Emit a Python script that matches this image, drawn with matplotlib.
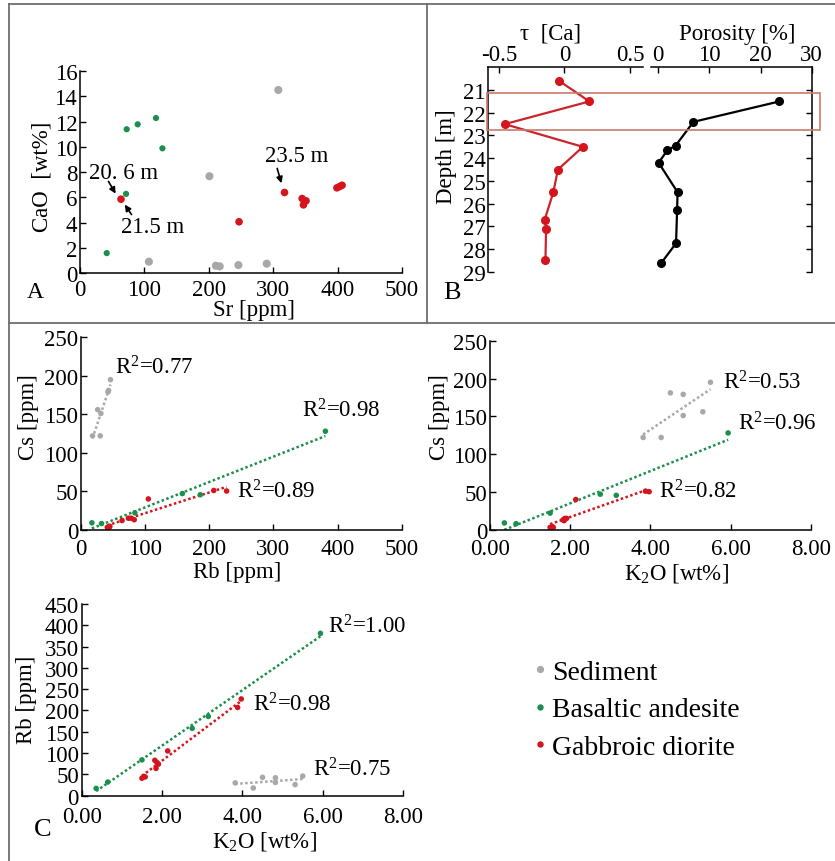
import matplotlib
matplotlib.use("Agg")
import matplotlib.pyplot as plt
import matplotlib.transforms as mtransforms
from matplotlib.lines import Line2D
from matplotlib.patches import Rectangle
from matplotlib.ticker import FormatStrFormatter
import numpy as np

plt.rcParams['font.family'] = ['Liberation Serif', 'DejaVu Serif']
plt.rcParams['mathtext.fontset'] = 'custom'
plt.rcParams['mathtext.rm'] = 'Liberation Serif'
plt.rcParams['mathtext.it'] = 'Liberation Serif:italic'
plt.rcParams['axes.unicode_minus'] = False

GREY = '#a8a8a8'
GREEN = '#1b8f4c'
RED = '#d4151d'

# panel A: Sr vs CaO
sr_sed = [107, 201, 211, 217, 246, 290, 308]
cao_sed = [0.9, 7.67, 0.58, 0.53, 0.63, 0.74, 14.5]
sr_bas = [41.5, 71.5, 72.5, 89.6, 118, 128]
cao_bas = [1.58, 6.27, 11.39, 11.78, 12.28, 9.88]
sr_gab = [63.7, 247, 317.6, 345, 351, 347, 399, 407, 403]
cao_gab = [5.85, 4.06, 6.38, 5.9, 5.72, 5.4, 6.75, 6.95, 6.85]

# panel B: depth profiles
depth_tau = [20.6, 21.5, 22.5, 23.5, 24.5, 25.5, 26.7, 27.1, 28.5]
tau_ca = [-0.04, 0.19, -0.455, 0.14, -0.05, -0.085, -0.15, -0.14, -0.145]
depth_por = [21.5, 22.4, 23.45, 23.65, 24.2, 25.5, 26.3, 27.75, 28.6]
porosity = [23.7, 6.9, 3.4, 1.8, 0.1, 3.8, 3.7, 3.5, 0.65]

# panel C: K2O, Rb, Cs per sample
k2o_sed = [3.82, 4.27, 4.50, 4.82, 4.82, 5.31, 5.50]
rb_sed = [30, 18, 43, 42, 31, 26, 46]
cs_sed = [122, 122, 181, 179, 151, 156, 195]
k2o_bas = [0.36, 0.65, 1.50, 2.75, 3.15, 5.94]
rb_bas = [17, 32, 84, 158, 186, 381]
cs_bas = [9, 8, 22, 47, 45.5, 128]
k2o_gab = [1.50, 1.58, 1.55, 1.85, 1.91, 1.87, 1.82, 2.14, 3.88, 3.97]
rb_gab = [41, 44, 45, 64, 74, 78, 83, 105, 207, 227]
cs_gab = [3.1, 3.1, 4.4, 12, 15, 15, 13, 40, 51, 50.3]

TICK = 16.5


def style(ax, xpad=4):
    for s in ['top', 'right']:
        ax.spines[s].set_visible(False)
    for s in ['left', 'bottom']:
        ax.spines[s].set_linewidth(1.1)
    ax.tick_params(direction='in', length=4, width=1, labelsize=TICK, pad=2)
    ax.tick_params(axis='x', pad=xpad)


def trend(ax, x, y, c):
    x = np.asarray(x, float)
    y = np.asarray(y, float)
    k, b = np.polyfit(x, y, 1)
    xs = np.array([x.min(), x.max()])
    ax.plot(xs, k * xs + b, ls=(0, (1, 1)), color=c, lw=1.8, zorder=1)


fig = plt.figure(figsize=(8.35, 8.62), dpi=100)

# ---- A
axA = fig.add_axes([0.0958, 0.6821, 0.3856, 0.2343])
style(axA)
axA.scatter(sr_sed, cao_sed, s=34, c=GREY, edgecolors='none', zorder=2)
axA.scatter(sr_bas, cao_bas, s=20, c=GREEN, edgecolors='none', zorder=2)
axA.scatter(sr_gab, cao_gab, s=30, c=RED, edgecolors='none', zorder=3)
axA.set_xlim(0, 500)
axA.set_ylim(0, 16)
axA.set_xticks(range(0, 501, 100))
axA.set_yticks(range(0, 17, 2))
axA.set_xlabel('Sr [ppm]', fontsize=TICK)
axA.set_ylabel('CaO  [wt%]', fontsize=TICK)
axA.xaxis.set_label_coords(0.54, -0.13)
axA.yaxis.set_label_coords(-0.085, 0.48)
arr = dict(arrowstyle='-|>', color='black', lw=1.2, mutation_scale=9)
axA.text(68, 8.0, '20. 6 m', fontsize=TICK, ha='center', va='center')
axA.annotate('', xy=(57.5, 6.1), xytext=(42, 7.45), arrowprops=arr)
axA.text(113, 3.72, '21.5 m', fontsize=TICK, ha='center', va='center')
axA.annotate('', xy=(67, 5.6), xytext=(82.5, 4.45), arrowprops=arr)
axA.text(337, 9.33, '23.5 m', fontsize=TICK, ha='center', va='center')
axA.annotate('', xy=(314, 6.9), xytext=(305, 8.5), arrowprops=arr)

# ---- B
axT = fig.add_axes([0.5848, 0.6836, 0.1856, 0.2371])
axP = fig.add_axes([0.7796, 0.6836, 0.1925, 0.2371], sharey=axT)
for ax in (axT, axP):
    ax.spines['bottom'].set_visible(False)
    ax.spines['top'].set_linewidth(1.1)
    ax.xaxis.tick_top()
    ax.xaxis.set_label_position('top')
    ax.tick_params(direction='in', length=4, width=1, labelsize=TICK, pad=2)
axT.spines['right'].set_visible(False)
axT.spines['left'].set_linewidth(1.1)
axP.spines['left'].set_visible(False)
axP.spines['right'].set_linewidth(1.1)
axP.yaxis.tick_right()
axP.tick_params(axis='y', labelright=False)

axT.plot(tau_ca, depth_tau, color='#c8262c', lw=1.6, marker='o', ms=5.5,
         mfc=RED, mec=RED)
axP.plot(porosity, depth_por, color='black', lw=1.6, marker='o', ms=5.5)
axT.set_xlim(-0.58, 0.6)
axT.set_xticks([-0.5, 0, 0.5])
axT.set_xticklabels(['-0.5', '0', '0.5'])
axP.set_xlim(-1.4, 30)
axP.set_xticks([0, 10, 20, 30])
axT.set_ylim(29, 20)
axT.set_yticks(range(21, 30))
axT.set_xlabel('\u03c4  [Ca]', fontsize=TICK)
axP.set_xlabel('Porosity [%]', fontsize=TICK)
axT.xaxis.set_label_coords(0.40, 1.14)
axP.xaxis.set_label_coords(0.535, 1.14)
axT.set_ylabel('Depth [m]', fontsize=TICK)
axT.yaxis.set_label_coords(-0.2, 0.566)

tr = mtransforms.blended_transform_factory(fig.transFigure, axT.transData)
fig.add_artist(Rectangle((0.583, 21.15), 0.399, 1.6, transform=tr,
                         fill=False, ec='#c77b6c', lw=1.2, clip_on=False))

# ---- C1: Rb vs Cs
ax1 = fig.add_axes([0.0970, 0.3843, 0.3841, 0.2232])
style(ax1, xpad=6)
for x, y, c in [(rb_sed, cs_sed, GREY), (rb_bas, cs_bas, GREEN), (rb_gab, cs_gab, RED)]:
    trend(ax1, x, y, c)
    ax1.scatter(x, y, s=16, c=c, edgecolors='none', zorder=2)
ax1.set_xlim(0, 500)
ax1.set_ylim(0, 250)
ax1.set_xticks(range(0, 501, 100))
ax1.set_yticks(range(0, 251, 50))
ax1.set_xlabel('Rb [ppm]', fontsize=TICK)
ax1.set_ylabel('Cs [ppm]', fontsize=TICK)
ax1.xaxis.set_label_coords(0.486, -0.16)
ax1.yaxis.set_label_coords(-0.13, 0.593)
ax1.text(53, 211, 'R$^2$=0.77', fontsize=TICK, va='center')
ax1.text(344, 156, 'R$^2$=0.98', fontsize=TICK, va='center')
ax1.text(243, 50, 'R$^2$=0.89', fontsize=TICK, va='center')

# ---- C2: K2O vs Cs
ax2 = fig.add_axes([0.5868, 0.3843, 0.3841, 0.2193])
style(ax2, xpad=6)
for x, y, c in [(k2o_sed, cs_sed, GREY), (k2o_bas, cs_bas, GREEN), (k2o_gab, cs_gab, RED)]:
    trend(ax2, x, y, c)
    ax2.scatter(x, y, s=16, c=c, edgecolors='none', zorder=2)
ax2.set_xlim(0, 8)
ax2.set_ylim(0, 250)
ax2.set_xticks(range(0, 9, 2))
ax2.xaxis.set_major_formatter(FormatStrFormatter('%.2f'))
ax2.set_yticks(range(0, 251, 50))
ax2.set_xlabel('K$_2$O [wt%]', fontsize=TICK)
ax2.set_ylabel('Cs [ppm]', fontsize=TICK)
ax2.xaxis.set_label_coords(0.58, -0.168)
ax2.yaxis.set_label_coords(-0.125, 0.603)
ax2.text(5.82, 196, 'R$^2$=0.53', fontsize=TICK, va='center')
ax2.text(6.19, 141, 'R$^2$=0.96', fontsize=TICK, va='center')
ax2.text(4.22, 52, 'R$^2$=0.82', fontsize=TICK, va='center')

# ---- C3: K2O vs Rb
ax3 = fig.add_axes([0.0978, 0.0758, 0.3851, 0.2224])
style(ax3, xpad=7.5)
for x, y, c in [(k2o_sed, rb_sed, GREY), (k2o_bas, rb_bas, GREEN), (k2o_gab, rb_gab, RED)]:
    trend(ax3, x, y, c)
    ax3.scatter(x, y, s=16, c=c, edgecolors='none', zorder=2)
ax3.set_xlim(0, 8)
ax3.set_ylim(0, 450)
ax3.set_xticks(range(0, 9, 2))
ax3.xaxis.set_major_formatter(FormatStrFormatter('%.2f'))
ax3.set_yticks(range(0, 451, 50))
ax3.set_xlabel('K$_2$O [wt%]', fontsize=TICK)
ax3.set_ylabel('Rb [ppm]', fontsize=TICK)
ax3.xaxis.set_label_coords(0.567, -0.172)
ax3.yaxis.set_label_coords(-0.14, 0.504)
ax3.text(6.13, 399, 'R$^2$=1.00', fontsize=TICK, va='center')
ax3.text(4.27, 215, 'R$^2$=0.98', fontsize=TICK, va='center')
ax3.text(5.76, 63, 'R$^2$=0.75', fontsize=TICK, va='center')

# legend
handles = [Line2D([], [], ls='none', marker='o', ms=4.2, color=GREY),
           Line2D([], [], ls='none', marker='o', ms=3.6, color=GREEN),
           Line2D([], [], ls='none', marker='o', ms=3.6, color=RED)]
fig.legend(handles, ['Sediment', 'Basaltic andesite', 'Gabbroic diorite'],
           loc='upper left', bbox_to_anchor=(0.6383, 0.2338), frameon=False,
           fontsize=20, borderpad=0, borderaxespad=0, handlelength=0.5,
           handletextpad=0.2, labelspacing=0.43)

# panel letters
fig.text(0.0419, 0.6601, 'A', fontsize=17, ha='center', va='center')
fig.text(0.541, 0.6597, 'B', fontsize=19, ha='center', va='center')
fig.text(0.0515, 0.0371, 'C', fontsize=19, ha='center', va='center')

# frame lines
fc = '#6e6e6e'
fig.add_artist(Line2D([0.0102, 1.0], [0.9942, 0.9942], color=fc, lw=1.3))
fig.add_artist(Line2D([0.0102, 0.0102], [0.0, 0.9942], color=fc, lw=1.3))
fig.add_artist(Line2D([0.0102, 1.0], [0.6241, 0.6241], color=fc, lw=1.3))
fig.add_artist(Line2D([0.5114, 0.5114], [0.6241, 0.9942], color=fc, lw=1.3))

fig.savefig('out.png', dpi=100, facecolor='white')
